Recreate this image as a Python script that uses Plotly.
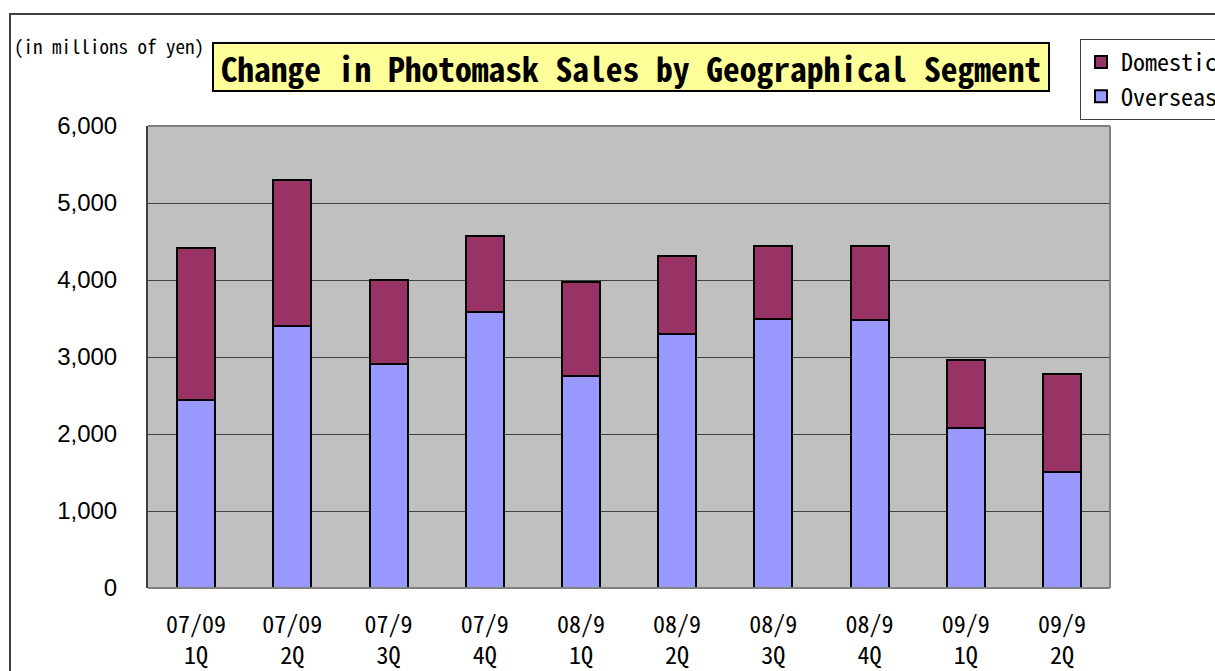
import plotly.graph_objects as go

categories = ["07/09<br>1Q", "07/09<br>2Q", "07/9<br>3Q", "07/9<br>4Q", "08/9<br>1Q",
              "08/9<br>2Q", "08/9<br>3Q", "08/9<br>4Q", "09/9<br>1Q", "09/9<br>2Q"]
overseas = [2442, 3400, 2905, 3584, 2753, 3294, 3498, 3481, 2078, 1502]
totals = [4416, 5299, 3996, 4571, 3970, 4312, 4442, 4442, 2961, 2779]
domestic = [t - o for t, o in zip(totals, overseas)]
y_ticks = [0, 1000, 2000, 3000, 4000, 5000, 6000]

W, H = 1215, 671
L, R, T, B = 148, 1110, 126, 588

def px(x):
    return (x - L) / (R - L)

def py(y):
    return (B - y) / (B - T)

GOTHIC = "Noto Sans Mono CJK JP, Noto Sans CJK JP"

fig = go.Figure()
fig.add_trace(go.Bar(x=categories, y=overseas, name="Overseas",
                     marker=dict(color="#9999FF", line=dict(color="black", width=2))))
fig.add_trace(go.Bar(x=categories, y=domestic, name="Domestic",
                     marker=dict(color="#993366", line=dict(color="black", width=2))))

fig.update_layout(
    width=W, height=H,
    barmode="stack", bargap=0.605,
    paper_bgcolor="white", plot_bgcolor="#C0C0C0",
    margin=dict(l=L, r=W - R, t=T, b=H - B, autoexpand=False),
    showlegend=True,
    legend=dict(x=px(1080), y=py(39), xanchor="left", yanchor="top",
                traceorder="reversed", bgcolor="white", bordercolor="#404040",
                borderwidth=1, font=dict(family=GOTHIC, size=24, color="black"),
                itemwidth=30, tracegroupgap=0),
    xaxis=dict(tickfont=dict(family=GOTHIC, size=24, color="black"), showline=False,
               ticks="", ticklabelstandoff=20, fixedrange=True),
    yaxis=dict(range=[0, 6000], tickvals=y_ticks, tickformat=",",
               tickfont=dict(family="Liberation Sans", size=24, color="black"),
               showgrid=True, gridcolor="#404040", gridwidth=1,
               ticks="inside", ticklen=8, tickcolor="#404040", tickwidth=1,
               showline=True, linecolor="#404040", linewidth=2,
               ticklabelstandoff=24, zeroline=False, fixedrange=True),
    shapes=[
        dict(type="rect", xref="paper", yref="paper", x0=px(10), x1=px(1300),
             y0=py(700), y1=py(14), line=dict(color="#404040", width=2),
             fillcolor="rgba(0,0,0,0)", layer="below"),
        dict(type="line", xref="paper", yref="paper", x0=0, x1=1, y0=1, y1=1,
             line=dict(color="#808080", width=2)),
        dict(type="line", xref="paper", yref="paper", x0=1, x1=1, y0=0, y1=1,
             line=dict(color="#808080", width=2)),
        dict(type="line", xref="paper", yref="paper", x0=0, x1=1, y0=0, y1=0,
             line=dict(color="#808080", width=2)),
    ],
    annotations=[
        dict(text="<b>Change in Photomask Sales by Geographical Segment</b>",
             xref="paper", yref="paper", x=px(631), y=py(67), xanchor="center",
             yanchor="middle", showarrow=False, width=832, height=44,
             bgcolor="#FFFF99", bordercolor="black", borderwidth=2,
             font=dict(family=GOTHIC, size=33.5, color="black")),
        dict(text="(in millions of yen)", xref="paper", yref="paper",
             x=px(12), y=py(45), xanchor="left", yanchor="middle", showarrow=False,
             font=dict(family=GOTHIC, size=19, color="black")),
    ],
)

fig.write_html("out.html", config={"displayModeBar": False},
               post_script="document.body.style.margin='0';")
